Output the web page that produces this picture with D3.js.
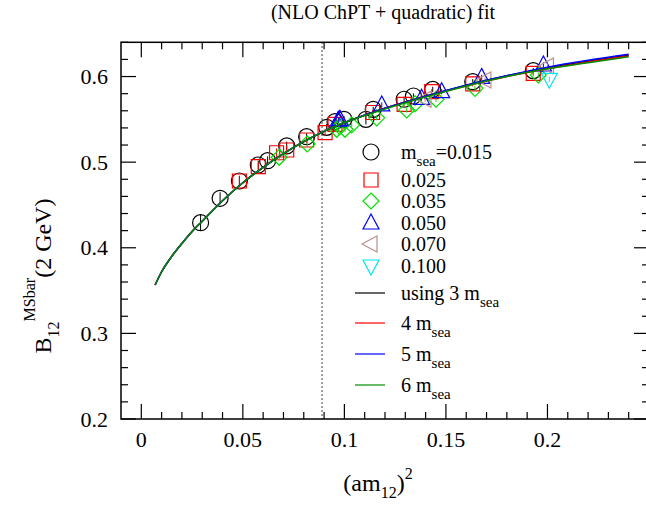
<!DOCTYPE html>
<html>
<head>
<meta charset="utf-8">
<script src="https://cdn.jsdelivr.net/npm/d3@7"></script>
<style>
  body { margin: 0; background: #fff; }
</style>
</head>
<body>
<div id="chart"></div>
<script>
const svgWidth = 646;
const svgHeight = 508;

// data: [ (am12)^2 , B12 , error ]
const sea015 = [[0.0292, 0.4293, 0.009], [0.0388, 0.4578, 0.007], [0.0483, 0.478, 0.006], [0.0576, 0.4967, 0.005],
  [0.0622, 0.5017, 0.005], [0.0716, 0.519, 0.005], [0.0814, 0.5298, 0.004], [0.0913, 0.5407, 0.004],
  [0.0954, 0.5474, 0.004], [0.0998, 0.550, 0.004], [0.1106, 0.550, 0.006], [0.1142, 0.5617, 0.003],
  [0.1294, 0.5735, 0.003], [0.134, 0.5773, 0.003], [0.1435, 0.585, 0.003], [0.1632, 0.594, 0.003], [0.193, 0.6069, 0.003]];
const sea025 = [[0.0483, 0.478, 0.006], [0.0576, 0.4947, 0.005], [0.0666, 0.511, 0.005], [0.0716, 0.5142, 0.005],
  [0.0814, 0.5259, 0.004], [0.0905, 0.5345, 0.004], [0.0954, 0.5442, 0.004], [0.1139, 0.558, 0.003],
  [0.1294, 0.5676, 0.003], [0.143, 0.5823, 0.003], [0.1632, 0.5915, 0.003], [0.193, 0.6038, 0.003]];
const sea035 = [[0.0679, 0.5057, 0.004], [0.0817, 0.5212, 0.004], [0.0962, 0.5384, 0.003], [0.0977, 0.5414, 0.003],
  [0.1003, 0.5384, 0.003], [0.1036, 0.5434, 0.003], [0.1159, 0.5518, 0.003], [0.1307, 0.561, 0.003],
  [0.1348, 0.5682, 0.003], [0.1451, 0.5735, 0.003], [0.1643, 0.5862, 0.003], [0.1955, 0.6018, 0.003]];
const sea050 = [[0.097, 0.549, 0.003], [0.0978, 0.550, 0.003], [0.1184, 0.5668, 0.003], [0.138, 0.5746, 0.003],
  [0.1479, 0.5823, 0.003], [0.1676, 0.599, 0.003], [0.198, 0.6135, 0.003]];
const sea070 = [[0.1397, 0.5735, 0.003], [0.1692, 0.596, 0.003], [0.200, 0.6123, 0.003]];
const sea100 = [[0.2009, 0.5968, 0.003]];

// fit curves, sampled along the drawn lines
const fitX = [0.0068, 0.010, 0.015, 0.020, 0.025, 0.030, 0.040, 0.050, 0.060, 0.070, 0.080, 0.090,
  0.100, 0.120, 0.140, 0.160, 0.180, 0.200, 0.220, 0.240];
const fit3 = [0.3565, 0.372, 0.390, 0.405, 0.419, 0.431, 0.455, 0.476, 0.494, 0.510, 0.524, 0.536,
  0.546, 0.563, 0.577, 0.590, 0.601, 0.610, 0.618, 0.625];
const fit4 = [0.3565, 0.372, 0.390, 0.405, 0.419, 0.431, 0.455, 0.476, 0.494, 0.510, 0.524, 0.536,
  0.546, 0.563, 0.577, 0.589, 0.600, 0.609, 0.617, 0.624];
const fit5 = [0.3565, 0.372, 0.390, 0.405, 0.419, 0.431, 0.455, 0.476, 0.494, 0.510, 0.524, 0.536,
  0.546, 0.563, 0.577, 0.590, 0.601, 0.611, 0.619, 0.626];
const fit6 = [0.3565, 0.372, 0.390, 0.405, 0.419, 0.431, 0.455, 0.476, 0.494, 0.510, 0.524, 0.536,
  0.546, 0.562, 0.576, 0.589, 0.600, 0.609, 0.616, 0.623];

const physX = 0.089;

const xTicks = [0, 0.05, 0.1, 0.15, 0.2];
const xTickLabels = ["0", "0.05", "0.1", "0.15", "0.2"];
const yTicks = [0.2, 0.3, 0.4, 0.5, 0.6];
const yTickLabels = ["0.2", "0.3", "0.4", "0.5", "0.6"];

const seaLabels = ["0.015", "0.025", "0.035", "0.050", "0.070", "0.100"];
const fitLabels = ["using 3", "4", "5", "6"];

const plotLeft = 121, plotRight = 649, plotTop = 42.3, plotBottom = 419;
const serif = "'Liberation Serif', 'Times New Roman', Times, serif";

let svg = d3.select("#chart").append("svg")
  .attr("width", svgWidth)
  .attr("height", svgHeight)
  .attr("font-family", serif)
  .style("font-family", serif);

let x = d3.scaleLinear().domain([-0.01, 0.25]).range([plotLeft, plotRight]);
let y = d3.scaleLinear().domain([0.2, 0.64]).range([plotBottom, plotTop]);

// symbol shapes
function symbolPath(kind) {
  if (kind === "circle") return "M8,0A8,8 0 1,1 -8,0A8,8 0 1,1 8,0Z";
  if (kind === "square") return "M-7,-7H7V7H-7Z";
  if (kind === "diamond") return "M0,-8L8,0L0,8L-8,0Z";
  if (kind === "up") return "M0,-9L8,6H-8Z";
  if (kind === "left") return "M-9,0L6,-8V8Z";
  return "M0,9L8,-6H-8Z";
}

const seriesList = [
  { data: sea015, shape: "circle", color: "#000000" },
  { data: sea025, shape: "square", color: "#ff0000" },
  { data: sea035, shape: "diamond", color: "#00e000" },
  { data: sea050, shape: "up", color: "#0000ff" },
  { data: sea070, shape: "left", color: "#bc8f8f" },
  { data: sea100, shape: "down", color: "#00e5ee" }
];
const fitList = [
  { data: fit3, color: "#000000" },
  { data: fit4, color: "#ff0000" },
  { data: fit5, color: "#0000ff" },
  { data: fit6, color: "#008b00" }
];

// dotted line at physical point
svg.append("line")
  .attr("x1", x(physX)).attr("x2", x(physX))
  .attr("y1", plotTop).attr("y2", plotBottom)
  .attr("stroke", "#000")
  .attr("stroke-width", 1)
  .attr("stroke-dasharray", "1.5,2.5");

// data points
seriesList.forEach(function (s) {
  let g = svg.append("g");
  g.selectAll("line")
    .data(s.data)
    .enter()
    .append("line")
    .attr("x1", d => x(d[0])).attr("x2", d => x(d[0]))
    .attr("y1", d => y(d[1] - d[2])).attr("y2", d => y(d[1] + d[2]))
    .attr("stroke", s.color)
    .attr("stroke-width", 1);
  g.selectAll("path")
    .data(s.data)
    .enter()
    .append("path")
    .attr("transform", d => `translate(${x(d[0])},${y(d[1])})`)
    .attr("d", symbolPath(s.shape))
    .attr("fill", "none")
    .attr("stroke", s.color)
    .attr("stroke-width", 1.2);
});

// fit curves
fitList.forEach(function (f) {
  let line = d3.line()
    .x((d, i) => x(fitX[i]))
    .y(d => y(d))
    .curve(d3.curveMonotoneX);
  svg.append("path")
    .attr("d", line(f.data))
    .attr("fill", "none")
    .attr("stroke", f.color)
    .attr("stroke-width", 1.5);
});

// frame and ticks
svg.append("rect")
  .attr("x", plotLeft).attr("y", plotTop)
  .attr("width", plotRight - plotLeft).attr("height", plotBottom - plotTop)
  .attr("fill", "none")
  .attr("stroke", "#000")
  .attr("stroke-width", 1.5);

let ticksG = svg.append("g").attr("stroke", "#000").attr("stroke-width", 1.2);
d3.range(0, 0.2501, 0.01).forEach(function (v) {
  let major = Math.abs(v / 0.05 - Math.round(v / 0.05)) < 1e-6;
  let len = major ? 15 : 7;
  ticksG.append("line").attr("x1", x(v)).attr("x2", x(v)).attr("y1", plotBottom).attr("y2", plotBottom - len);
  ticksG.append("line").attr("x1", x(v)).attr("x2", x(v)).attr("y1", plotTop).attr("y2", plotTop + len);
});
d3.range(0.2, 0.6401, 0.02).forEach(function (v) {
  let major = Math.abs(v / 0.1 - Math.round(v / 0.1)) < 1e-6;
  let len = major ? 15 : 7;
  ticksG.append("line").attr("y1", y(v)).attr("y2", y(v)).attr("x1", plotLeft).attr("x2", plotLeft + len);
  ticksG.append("line").attr("y1", y(v)).attr("y2", y(v)).attr("x1", plotRight).attr("x2", plotRight - len);
});

// tick labels
svg.selectAll(".xlab")
  .data(xTicks)
  .enter()
  .append("text")
  .attr("x", d => x(d))
  .attr("y", 447)
  .attr("text-anchor", "middle")
  .style("font-size", "22px")
  .text((d, i) => xTickLabels[i]);
svg.selectAll(".ylab")
  .data(yTicks)
  .enter()
  .append("text")
  .attr("x", 108)
  .attr("y", d => y(d) + 7.5)
  .attr("text-anchor", "end")
  .style("font-size", "22px")
  .text((d, i) => yTickLabels[i]);

// title
svg.append("text")
  .attr("x", 383).attr("y", 19)
  .attr("text-anchor", "middle")
  .style("font-size", "20px")
  .text("(NLO ChPT + quadratic) fit");

// x axis title
let xt = svg.append("text")
  .attr("x", 378).attr("y", 491)
  .attr("text-anchor", "middle")
  .style("font-size", "24px");
xt.append("tspan").text("(am");
xt.append("tspan").attr("dy", 7).style("font-size", "16px").text("12");
xt.append("tspan").attr("dy", -7).text(")");
xt.append("tspan").attr("dy", -12).style("font-size", "16px").text("2");

// y axis title
let yt = svg.append("text")
  .attr("transform", "translate(51,276) rotate(-90)")
  .attr("text-anchor", "middle")
  .style("font-size", "24px");
yt.append("tspan").text("B");
yt.append("tspan").attr("dy", 8).style("font-size", "16px").text("12");
yt.append("tspan").attr("dy", -24).style("font-size", "16px").text("MSbar");
yt.append("tspan").attr("dy", 16).text("(2 GeV)");

// legend
const symRows = [152, 180, 201, 223, 244, 266];
const lineRows = [293, 323, 354, 385];
seriesList.forEach(function (s, i) {
  svg.append("path")
    .attr("transform", `translate(371,${symRows[i]})`)
    .attr("d", symbolPath(s.shape))
    .attr("fill", "none")
    .attr("stroke", s.color)
    .attr("stroke-width", 1.2);
  let t = svg.append("text")
    .attr("x", 401).attr("y", symRows[i] + 7)
    .style("font-size", "20px");
  if (i === 0) {
    t.append("tspan").text("m");
    t.append("tspan").attr("dy", 7).style("font-size", "15px").text("sea");
    t.append("tspan").attr("dy", -7).text("=" + seaLabels[i]);
  } else {
    t.text(seaLabels[i]);
  }
});
fitList.forEach(function (f, i) {
  svg.append("line")
    .attr("x1", 355).attr("x2", 385)
    .attr("y1", lineRows[i]).attr("y2", lineRows[i])
    .attr("stroke", f.color)
    .attr("stroke-width", 1.2);
  let t = svg.append("text")
    .attr("x", 401).attr("y", lineRows[i] + 7)
    .style("font-size", "20px");
  t.append("tspan").text(fitLabels[i] + " m");
  t.append("tspan").attr("dy", 7).style("font-size", "15px").text("sea");
});
</script>
</body>
</html>
